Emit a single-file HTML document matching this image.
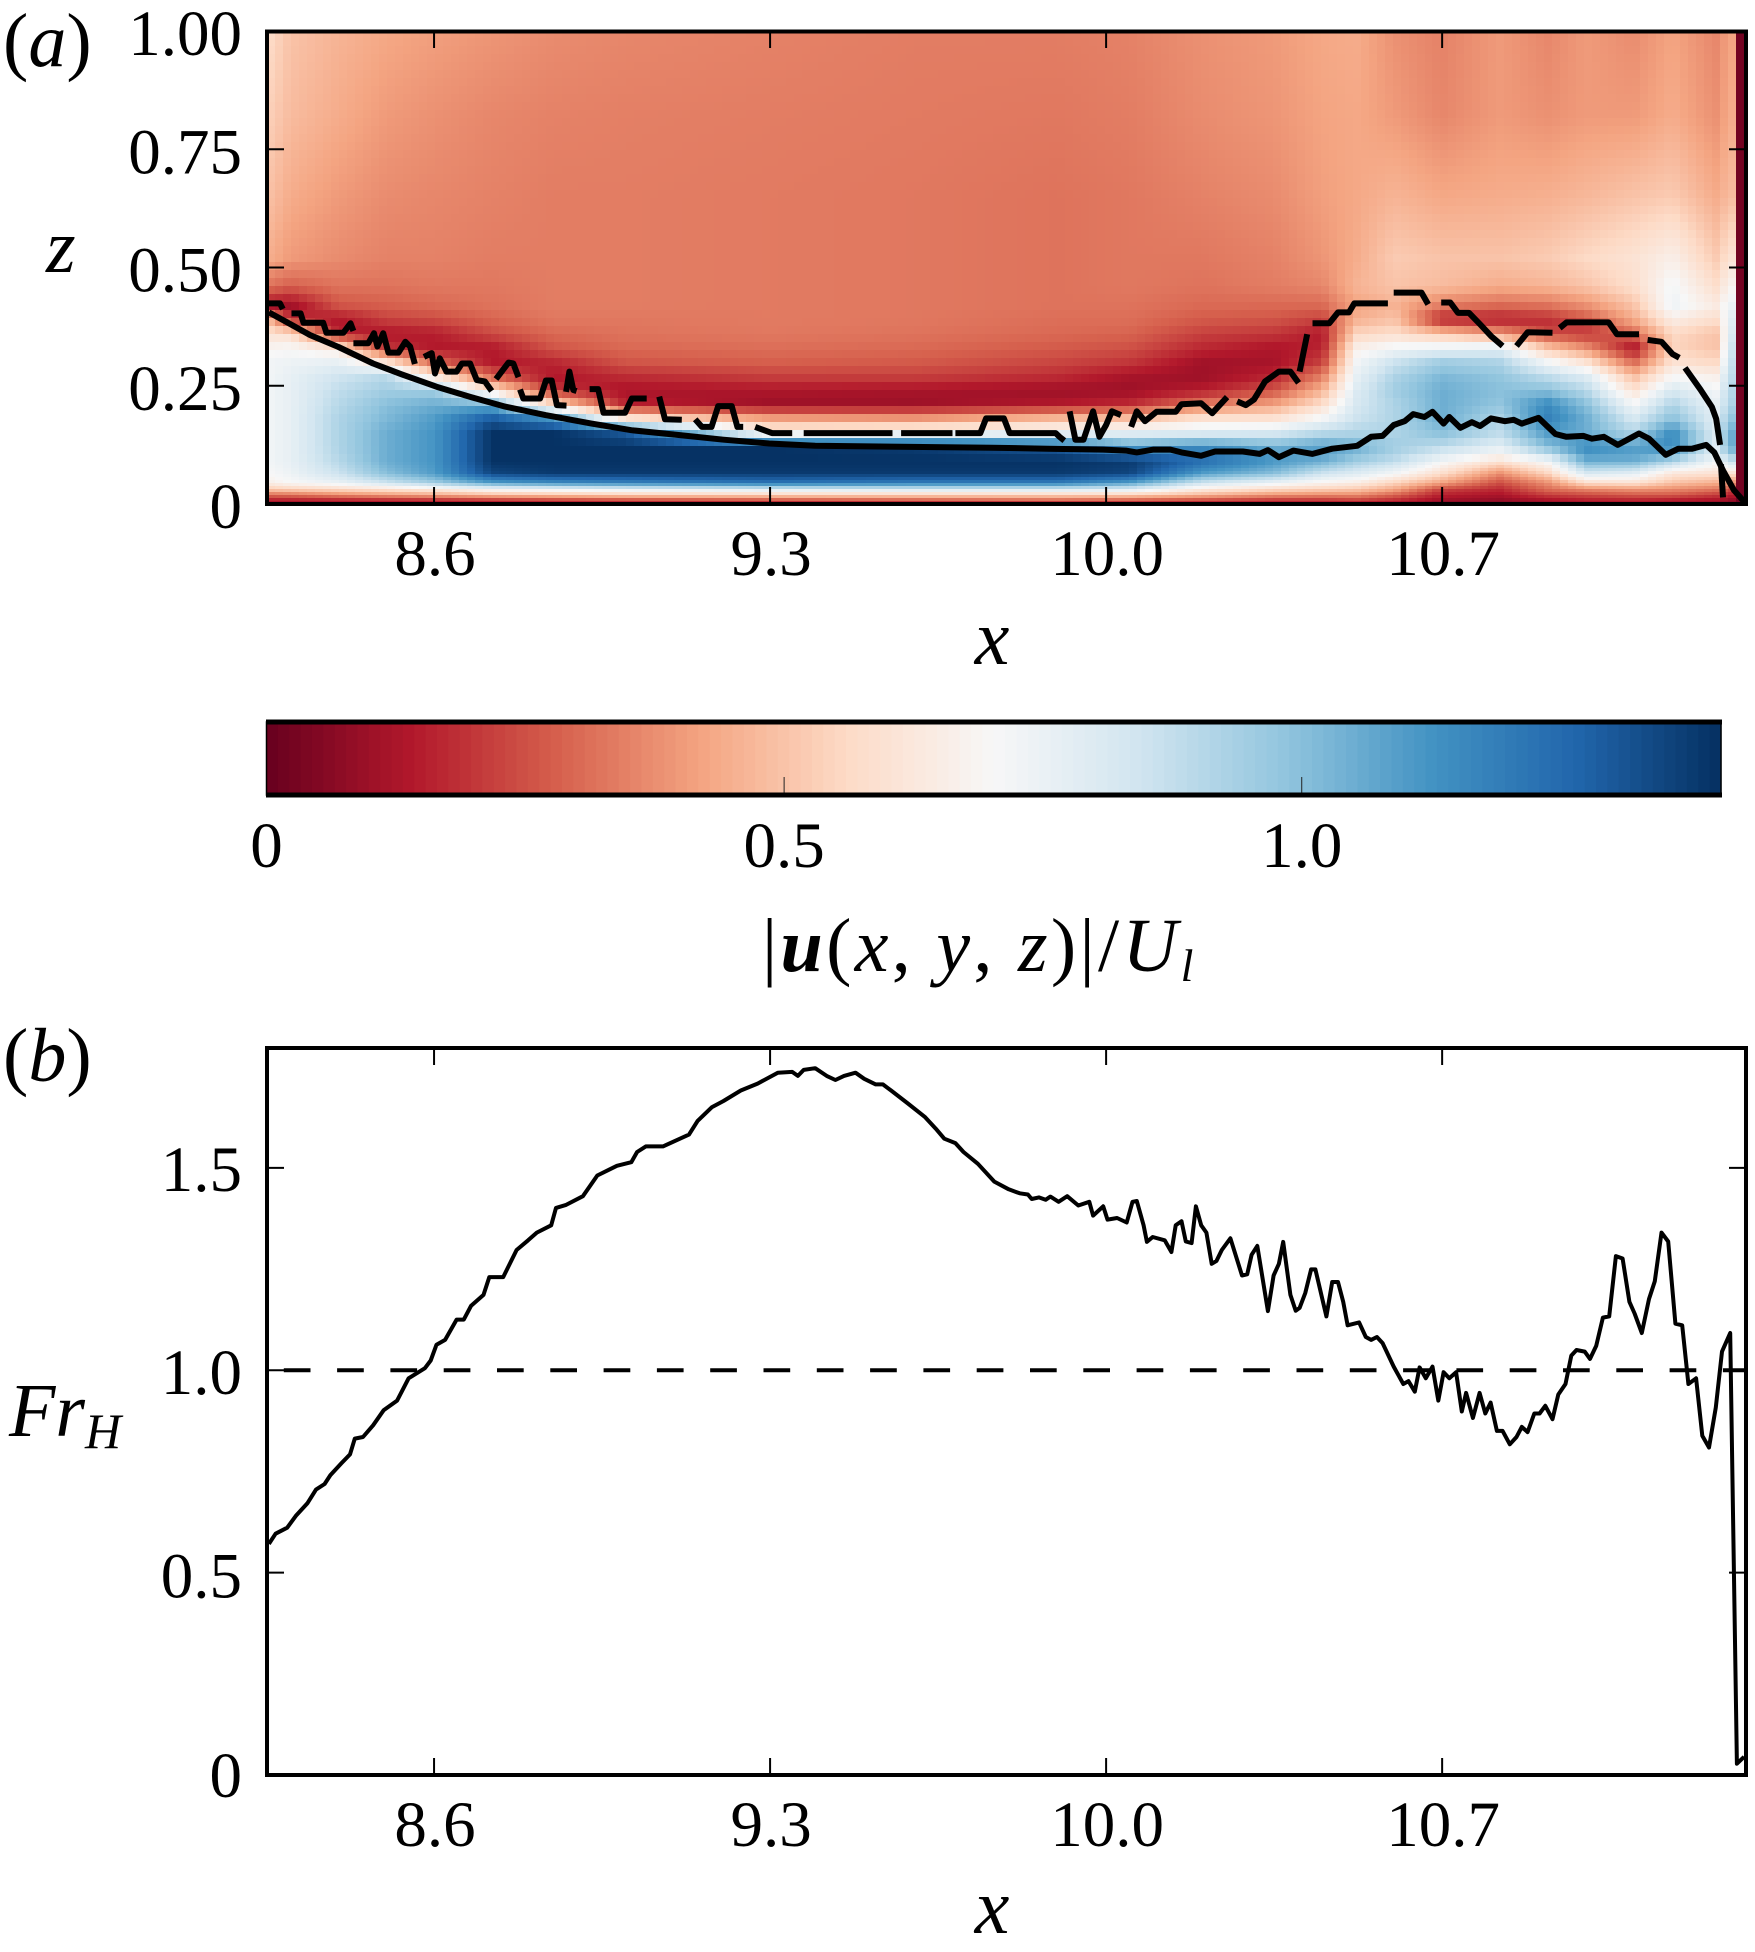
<!DOCTYPE html>
<html lang="en">
<head>
<meta charset="utf-8">
<title>Velocity magnitude and Froude number</title>
<style>
html,body{margin:0;padding:0;background:#fff;}
svg{display:block;}
text{font-family:"Liberation Serif","DejaVu Serif",serif;fill:#000;}
</style>
</head>
<body>
<svg id="figure" xmlns="http://www.w3.org/2000/svg" width="1755" height="1952" viewBox="0 0 1755 1952">
  <defs>
    <clipPath id="clip-a"><rect x="267" y="31" width="1479" height="473"/></clipPath>
    <clipPath id="clip-b"><rect x="267" y="1048" width="1479" height="727"/></clipPath>
  </defs>
  <g id="heatmap" shape-rendering="crispEdges"></g>
  <g id="contours" clip-path="url(#clip-a)"></g>
  <g id="axes-a"></g>
  <g id="colorbar"></g>
  <g id="axes-b"></g>
  <g id="series-b" clip-path="url(#clip-b)"></g>

  <text x="3" y="66" font-size="76">(<tspan font-style="italic">a</tspan>)</text>
  <text x="46" y="272" font-size="76" font-style="italic">z</text>
  <text x="992" y="664" font-size="78" font-style="italic" text-anchor="middle">x</text>
  <text x="762" y="971" font-size="76" letter-spacing="3.3">|<tspan font-weight="bold" font-style="italic">u</tspan>(<tspan font-style="italic">x</tspan>, <tspan font-style="italic">y</tspan>, <tspan font-style="italic">z</tspan>)|/<tspan font-style="italic">U</tspan><tspan font-style="italic" font-size="46" dy="10">l</tspan></text>
  <text x="3" y="1081" font-size="76">(<tspan font-style="italic">b</tspan>)</text>
  <text x="9" y="1436" font-size="76" font-style="italic">Fr<tspan font-size="50" dy="12">H</tspan></text>
  <text x="992" y="1933" font-size="78" font-style="italic" text-anchor="middle">x</text>
</svg>
<script>
// ---------- axis ticks ----------
const xTicks = [8.6, 9.3, 10.0, 10.7];
const xTickLabels = ['8.6', '9.3', '10.0', '10.7'];
const zTicks = [0, 0.25, 0.5, 0.75, 1];
const zTickLabels = ['0', '0.25', '0.50', '0.75', '1.00'];
const frTicks = [0, 0.5, 1, 1.5];
const frTickLabels = ['0', '0.5', '1.0', '1.5'];
const cbTicks = [0, 0.5, 1.0];
const cbTickLabels = ['0', '0.5', '1.0'];
const xDomain = [8.252, 11.333];
const zDomain = [0, 1];
const frDomain = [0, 1.796];
const cbDomain = [0, 1.405];

// ---------- colormap (RdBu) ----------
const cmapStops = ['#67001f','#b2182b','#d6604d','#f4a582','#fddbc7','#f7f7f7','#d1e5f0','#92c5de','#4393c3','#2166ac','#053061'];

// ---------- heatmap: |u|/U_l sampled at heatX columns and heatZ rows ----------
const heatX = [8.25,8.30,8.40,8.50,8.60,8.72,8.85,9.0,9.3,9.6,9.9,10.05,10.2,10.35,10.45,10.52,10.6,10.7,10.82,10.92,11.0,11.1,11.18,11.27,11.30,11.312,11.316,11.335];
const heatZ = [0,0.008,0.02,0.03,0.045,0.065,0.09,0.12,0.15,0.18,0.21,0.24,0.27,0.30,0.33,0.36,0.39,0.42,0.46,0.52,0.65,0.82,1.0];
const heatValues = [
[.10,.15,.32,.50,.66,.70,.72,.72,.72,.72,.72,.72,.72,.72,.68,.60,.50,.12,.32,.45,.50,.54,.58],
[.10,.15,.33,.52,.70,.74,.76,.76,.76,.76,.76,.76,.76,.74,.70,.58,.20,.10,.28,.40,.44,.48,.50],
[.11,.16,.38,.55,.75,.85,.90,.92,.92,.92,.90,.88,.84,.76,.62,.16,.13,.26,.32,.37,.40,.44,.46],
[.12,.17,.42,.58,.85,1.0,1.05,1.05,1.05,1.02,1.0,.95,.90,.60,.20,.13,.22,.28,.32,.35,.37,.40,.43],
[.12,.18,.45,.62,.95,1.10,1.12,1.12,1.12,1.10,1.05,.95,.62,.30,.14,.15,.24,.30,.33,.35,.36,.38,.41],
[.12,.20,.50,.70,1.1,1.35,1.40,1.40,1.40,1.30,1.05,.62,.28,.14,.14,.24,.29,.32,.33,.34,.35,.36,.39],
[.13,.22,.52,.72,1.15,1.38,1.40,1.40,1.40,1.15,.58,.20,.13,.17,.26,.30,.33,.34,.34,.34,.34,.35,.37],
[.13,.24,.55,.75,1.18,1.38,1.40,1.40,1.30,.62,.16,.12,.18,.26,.30,.32,.33,.34,.34,.34,.34,.345,.36],
[.13,.26,.56,.78,1.22,1.38,1.40,1.40,.68,.42,.10,.13,.22,.28,.31,.33,.335,.335,.335,.335,.335,.34,.35],
[.13,.28,.56,.80,1.2,1.38,1.40,1.38,.72,.40,.10,.12,.22,.27,.30,.32,.33,.33,.33,.33,.33,.335,.34],
[.14,.30,.56,.80,1.2,1.38,1.40,1.30,.75,.48,.14,.10,.18,.23,.27,.30,.31,.32,.32,.32,.32,.33,.34],
[.14,.28,.55,.78,1.1,1.35,1.38,1.1,.78,.50,.18,.10,.12,.20,.25,.29,.31,.32,.33,.33,.33,.34,.35],
[.13,.24,.48,.62,.85,1.10,1.25,1.15,.80,.60,.34,.15,.10,.11,.17,.22,.27,.30,.32,.33,.35,.37,.38],
[.12,.20,.40,.55,.75,1.0,1.12,1.05,.82,.60,.42,.26,.16,.12,.13,.20,.26,.30,.34,.35,.37,.39,.40],
[.12,.20,.38,.52,.68,.85,1.05,1.10,.90,.72,.58,.46,.34,.22,.16,.14,.22,.30,.36,.39,.41,.42,.43],
[.12,.22,.38,.50,.65,.80,.95,1.05,.92,.85,.82,.80,.76,.72,.66,.55,.45,.42,.46,.44,.43,.43,.44],
[.10,.18,.30,.42,.55,.72,.88,.95,.92,.92,.92,.95,.92,.85,.72,.58,.50,.46,.50,.52,.46,.40,.38],
[.05,.10,.16,.22,.42,.58,.72,.88,1.0,1.05,1.05,1.05,1.02,.95,.75,.50,.16,.34,.48,.50,.43,.36,.35],
[.05,.08,.13,.17,.25,.38,.60,.78,.88,.92,.98,1.0,.98,.92,.78,.40,.15,.30,.44,.50,.44,.40,.40],
[.08,.12,.22,.30,.38,.55,.72,1.0,1.1,1.18,1.15,1.0,.88,.72,.50,.24,.18,.32,.46,.52,.45,.38,.36],
[.10,.15,.25,.35,.58,.82,1.05,1.15,1.05,1.05,1.0,.90,.80,.60,.38,.20,.26,.38,.50,.56,.47,.40,.40],
[.12,.16,.28,.38,.60,.78,1.05,1.10,.92,.82,.72,.60,.48,.30,.12,.30,.44,.50,.58,.60,.50,.40,.37],
[.10,.14,.28,.36,.50,.62,.92,1.15,1.15,1.0,.92,.82,.70,.60,.55,.56,.65,.74,.72,.66,.52,.44,.42],
[.08,.12,.22,.32,.45,.60,.72,.80,.80,.78,.76,.72,.66,.56,.50,.50,.58,.64,.58,.52,.44,.38,.36],
[.06,.08,.16,.24,.38,.60,.85,1.05,1.05,.98,.92,.90,.88,.86,.84,.80,.78,.74,.68,.60,.48,.44,.42],
[.06,.08,.16,.24,.38,.60,.85,1.05,1.05,.98,.92,.90,.88,.86,.84,.80,.78,.74,.68,.60,.48,.44,.42],
[.02,.02,.02,.02,.02,.02,.02,.02,.02,.02,.02,.02,.02,.02,.02,.02,.02,.02,.02,.02,.02,.02,.02],
[.02,.02,.02,.02,.02,.02,.02,.02,.02,.02,.02,.02,.02,.02,.02,.02,.02,.02,.02,.02,.02,.02,.02]
];

// ---------- panel (a) contours ----------
const solidX = [8.256,8.294,8.342,8.401,8.473,8.533,8.605,8.677,8.748,8.832,8.928,9.011,9.107,9.203,9.298,9.394,9.571,9.762,9.878,9.994,10.041,10.064,10.099,10.134,10.157,10.198,10.227,10.285,10.320,10.337,10.360,10.390,10.430,10.471,10.523,10.552,10.576,10.599,10.622,10.640,10.663,10.680,10.703,10.715,10.738,10.762,10.779,10.802,10.831,10.849,10.866,10.901,10.936,10.959,10.994,11.012,11.037,11.066,11.110,11.131,11.166,11.192,11.221,11.250,11.267,11.285,11.308,11.331];
const solidZ = [.405,.384,.357,.332,.297,.274,.248,.226,.206,.188,.170,.156,.146,.136,.128,.123,.121,.119,.117,.115,.113,.109,.115,.115,.109,.102,.111,.111,.106,.114,.099,.113,.106,.117,.123,.142,.144,.167,.175,.190,.184,.195,.170,.184,.161,.173,.165,.181,.175,.178,.170,.182,.148,.142,.144,.138,.142,.125,.149,.138,.104,.117,.117,.125,.109,.071,.029,.003];
const dashX = [8.255,8.279,8.285,null,8.303,8.322,8.328,8.369,8.376,8.411,8.426,8.432,null,8.432,8.463,8.475,8.482,8.494,8.505,8.526,8.540,8.550,8.560,null,8.579,8.595,8.602,8.612,8.626,8.647,8.658,8.675,8.689,8.706,8.720,null,8.729,8.755,8.765,8.776,null,8.779,8.786,8.821,8.833,8.845,8.856,8.876,null,8.875,8.882,8.890,8.897,null,8.924,8.942,8.953,8.998,9.012,9.043,null,9.069,9.081,9.116,null,9.144,9.158,9.178,9.192,9.220,9.232,9.244,null,9.269,9.304,9.346,null,9.370,9.555,null,9.573,9.680,null,9.686,9.738,9.750,9.787,9.799,9.895,9.903,9.913,null,9.924,9.936,9.953,9.973,9.986,10.000,10.012,10.031,null,10.052,10.064,10.081,10.105,10.145,10.157,10.198,10.221,10.252,null,10.273,10.291,10.308,10.331,10.360,10.384,10.401,null,10.403,10.419,null,10.430,10.465,10.483,10.506,10.517,10.587,null,10.599,10.657,10.671,null,10.698,10.717,10.733,10.756,10.779,10.802,10.826,null,10.855,10.878,10.930,null,10.945,10.959,11.047,11.064,11.110,null,11.128,11.157,11.180,11.194,null,11.206,11.238,11.262,11.271,11.279,null,11.281,11.285];
const dashZ = [.424,.424,.412,null,.403,.403,.383,.383,.362,.362,.382,.366,null,.340,.340,.361,.333,.361,.320,.320,.343,.333,.296,null,.311,.319,.276,.308,.280,.280,.297,.297,.262,.259,.239,null,.264,.299,.297,.268,null,.242,.223,.223,.261,.261,.209,.208,null,.237,.280,.241,.239,null,.243,.243,.193,.193,.223,.223,null,.227,.179,.178,null,.179,.163,.163,.207,.207,.163,.163,null,.163,.150,.150,null,.150,.150,null,.150,.150,null,.150,.150,.181,.181,.150,.150,.142,.134,null,.196,.136,.136,.196,.142,.167,.196,.188,null,.163,.196,.175,.195,.195,.211,.213,.192,.226,null,.217,.209,.221,.259,.280,.280,.256,null,.280,.359,null,.382,.382,.405,.405,.424,.424,null,.447,.447,.422,null,.426,.426,.404,.404,.380,.355,.334,null,.334,.363,.362,null,.372,.384,.384,.359,.359,null,.347,.343,.317,.309,null,.288,.242,.205,.180,.125,null,.084,.014];

// ---------- panel (b) Froude number ----------
const frX = [8.256,8.270,8.294,8.312,8.336,8.354,8.372,8.384,8.407,8.425,8.435,8.452,8.473,8.495,8.523,8.547,8.581,8.593,8.605,8.623,8.647,8.662,8.677,8.703,8.715,8.744,8.772,8.796,8.814,8.844,8.854,8.874,8.910,8.940,8.964,8.981,9.011,9.023,9.041,9.077,9.131,9.149,9.179,9.203,9.239,9.274,9.316,9.346,9.358,9.370,9.394,9.418,9.436,9.454,9.478,9.496,9.520,9.535,9.552,9.587,9.622,9.645,9.663,9.686,9.703,9.733,9.767,9.797,9.820,9.837,9.845,9.860,9.874,9.884,9.901,9.919,9.942,9.965,9.973,9.994,10.003,10.023,10.043,10.055,10.064,10.078,10.085,10.097,10.122,10.136,10.145,10.157,10.166,10.178,10.187,10.198,10.209,10.220,10.230,10.241,10.259,10.283,10.294,10.303,10.315,10.337,10.349,10.360,10.369,10.384,10.395,10.403,10.415,10.427,10.436,10.459,10.471,10.483,10.494,10.503,10.527,10.541,10.552,10.564,10.576,10.599,10.619,10.630,10.643,10.653,10.666,10.680,10.692,10.703,10.715,10.729,10.741,10.750,10.764,10.778,10.790,10.801,10.814,10.826,10.841,10.855,10.866,10.878,10.892,10.903,10.915,10.930,10.942,10.957,10.969,10.980,10.997,11.008,11.021,11.035,11.048,11.062,11.076,11.090,11.101,11.116,11.131,11.143,11.157,11.171,11.186,11.200,11.213,11.229,11.242,11.256,11.270,11.283,11.300,11.314,11.329];
const frY = [.571,.596,.611,.640,.671,.705,.719,.741,.770,.792,.831,.835,.864,.901,.925,.980,1.005,1.024,1.063,1.075,1.125,1.125,1.159,1.186,1.230,1.230,1.297,1.321,1.340,1.358,1.401,1.408,1.430,1.481,1.495,1.505,1.514,1.539,1.553,1.553,1.582,1.616,1.650,1.665,1.691,1.708,1.735,1.737,1.727,1.742,1.746,1.727,1.717,1.727,1.735,1.720,1.706,1.706,1.691,1.659,1.626,1.597,1.572,1.561,1.539,1.510,1.466,1.447,1.437,1.434,1.423,1.427,1.421,1.429,1.416,1.430,1.407,1.416,1.382,1.405,1.372,1.376,1.365,1.416,1.418,1.358,1.317,1.329,1.321,1.292,1.358,1.368,1.318,1.314,1.405,1.358,1.340,1.263,1.270,1.297,1.326,1.234,1.237,1.285,1.307,1.146,1.234,1.263,1.317,1.186,1.147,1.154,1.191,1.249,1.249,1.133,1.218,1.218,1.169,1.111,1.118,1.082,1.075,1.082,1.067,1.009,.966,.973,.947,1.007,.980,1.009,.925,.995,.980,.995,.898,.944,.882,.944,.893,.920,.850,.850,.817,.835,.860,.847,.893,.893,.912,.879,.940,.966,1.036,1.050,1.046,1.028,1.060,1.130,1.133,1.282,1.276,1.169,1.140,1.092,1.176,1.220,1.340,1.318,1.115,1.111,.966,.980,.838,.809,.908,1.046,1.092,.028,.045];
const refLineX = [8.287, 11.333];
const refLineY = [1, 1];

// ---------- axis functions ----------
const pxLeft = 267, pxRight = 1746;
function xPos(v){ return pxLeft + (v - xDomain[0]) / (xDomain[1] - xDomain[0]) * (pxRight - pxLeft); }
function zPos(v){ return 504 - (v - zDomain[0]) / (zDomain[1] - zDomain[0]) * 473; }
function frPos(v){ return 1775 - (v - frDomain[0]) / (frDomain[1] - frDomain[0]) * 727; }
function cbPos(v){ return 266.5 + (v - cbDomain[0]) / (cbDomain[1] - cbDomain[0]) * 1454.5; }

const NS = 'http://www.w3.org/2000/svg';
function mk(tag, parent, attrs){
  const el = document.createElementNS(NS, tag);
  for (const k in attrs) el.setAttribute(k, attrs[k]);
  parent.appendChild(el);
  return el;
}
function hexRgb(h){ return [parseInt(h.slice(1,3),16), parseInt(h.slice(3,5),16), parseInt(h.slice(5,7),16)]; }
const cmapRgb = cmapStops.map(hexRgb);
function colorOf(v){
  let t = (v - cbDomain[0]) / (cbDomain[1] - cbDomain[0]);
  t = Math.max(0, Math.min(1, t)) * (cmapRgb.length - 1);
  const i = Math.min(cmapRgb.length - 2, Math.floor(t));
  const f = t - i, a = cmapRgb[i], b = cmapRgb[i + 1];
  return 'rgb(' + Math.round(a[0] + (b[0]-a[0])*f) + ',' + Math.round(a[1] + (b[1]-a[1])*f) + ',' + Math.round(a[2] + (b[2]-a[2])*f) + ')';
}
function bracket(arr, v){
  let i = 0;
  while (i < arr.length - 2 && arr[i + 1] < v) i++;
  const f = Math.max(0, Math.min(1, (v - arr[i]) / (arr[i + 1] - arr[i])));
  return [i, f];
}
function sampleHeat(x, z){
  const [i, fx] = bracket(heatX, x);
  const [j, fz] = bracket(heatZ, z);
  const a = heatValues[i][j], b = heatValues[i + 1][j], c = heatValues[i][j + 1], d = heatValues[i + 1][j + 1];
  return (a*(1-fx) + b*fx)*(1-fz) + (c*(1-fx) + d*fx)*fz;
}
function zFromPx(py){ return zDomain[0] + (504 - py) / 473 * (zDomain[1] - zDomain[0]); }
function xFromPx(px){ return xDomain[0] + (px - pxLeft) / (pxRight - pxLeft) * (xDomain[1] - xDomain[0]); }

// ---------- draw heatmap ----------
(function(){
  const g = document.getElementById('heatmap');
  const edgeX = xPos(heatX[heatX.length - 2]) ;
  const columnsLeft = 184;
  const stepX = (edgeX - 2 - pxLeft) / columnsLeft;
  const xEdges = [];
  for (let i = 0; i <= columnsLeft; i++) xEdges.push(pxLeft + i * stepX);
  xEdges.push(pxRight);
  const yEdges = [504];
  let y = 504;
  while (y > 464) { y -= 3; yEdges.push(y); }
  while (y > 31) { y = Math.max(31, y - 8); yEdges.push(y); }
  for (let c = 0; c < xEdges.length - 1; c++) {
    const x0 = Math.round(xEdges[c]), x1 = Math.round(xEdges[c + 1]);
    const xv = xFromPx((xEdges[c] + xEdges[c + 1]) / 2);
    for (let r = 0; r < yEdges.length - 1; r++) {
      const y0 = Math.round(yEdges[r + 1]), y1 = Math.round(yEdges[r]);
      const zv = zFromPx((yEdges[r] + yEdges[r + 1]) / 2);
      const cell = mk('rect', g, {x: x0, y: y0, width: x1 - x0, height: y1 - y0, fill: colorOf(sampleHeat(xv, zv))});
      
      
    }
  }
})();

// ---------- line path helper ----------
function pathFrom(xs, ys, fx, fy){
  let d = '', pen = false;
  for (let i = 0; i < xs.length; i++) {
    if (xs[i] === null || ys[i] === null) { pen = false; continue; }
    d += (pen ? 'L' : 'M') + fx(xs[i]).toFixed(1) + ' ' + fy(ys[i]).toFixed(1);
    pen = true;
  }
  return d;
}

// ---------- contours ----------
(function(){
  const g = document.getElementById('contours');
  const solid = mk('path', g, {d: pathFrom(solidX, solidZ, xPos, zPos), fill: 'none', stroke: '#000', 'stroke-width': 6, 'stroke-linejoin': 'round'});
  
  
  const dash = mk('path', g, {d: pathFrom(dashX, dashZ, xPos, zPos), fill: 'none', stroke: '#000', 'stroke-width': 6, 'stroke-linejoin': 'round'});
  
  
})();

// ---------- axes ----------
function frame(g, top, bottom, sw){
  const r = mk('rect', g, {x: pxLeft, y: top, width: pxRight - pxLeft, height: bottom - top, fill: 'none', stroke: '#000', 'stroke-width': sw});
  
  
}
function tick(g, x1, y1, x2, y2){
  const l = mk('line', g, {x1: x1, y1: y1, x2: x2, y2: y2, stroke: '#000', 'stroke-width': 2});
  
  
}
function label(g, str, x, y, anchor){
  const t = mk('text', g, {x: x, y: y, 'font-size': 65, 'text-anchor': anchor});
  t.textContent = str;
  
  
}
(function(){
  const g = document.getElementById('axes-a');
  xTicks.forEach(function(v, i){
    tick(g, xPos(v), 504, xPos(v), 487);
    tick(g, xPos(v), 31, xPos(v), 48);
    label(g, xTickLabels[i], xPos(v) + 1, 575, 'middle');
  });
  zTicks.forEach(function(v, i){
    tick(g, 267, zPos(v), 284, zPos(v));
    tick(g, 1746, zPos(v), 1729, zPos(v));
    label(g, zTickLabels[i], 242, zPos(v) + 24, 'end');
  });
  frame(g, 31.5, 504, 4);
})();
(function(){
  const g = document.getElementById('axes-b');
  xTicks.forEach(function(v, i){
    tick(g, xPos(v), 1775, xPos(v), 1758);
    tick(g, xPos(v), 1048, xPos(v), 1065);
    label(g, xTickLabels[i], xPos(v) + 1, 1846, 'middle');
  });
  frTicks.forEach(function(v, i){
    tick(g, 267, frPos(v), 284, frPos(v));
    tick(g, 1746, frPos(v), 1729, frPos(v));
    label(g, frTickLabels[i], 242, frPos(v) + 24 - v * 2 + 2 * (v > 0 ? 1 : -1), 'end');
  });
  frame(g, 1048, 1775, 4);
})();

// ---------- colorbar ----------
(function(){
  const g = document.getElementById('colorbar');
  const strips = 128;
  for (let i = 0; i < strips; i++) {
    const v0 = cbDomain[0] + (cbDomain[1] - cbDomain[0]) * i / strips;
    const v1 = cbDomain[0] + (cbDomain[1] - cbDomain[0]) * (i + 1) / strips;
    const s = mk('rect', g, {x: cbPos(v0), y: 722, width: cbPos(v1) - cbPos(v0) + 0.6, height: 73, fill: colorOf((v0 + v1) / 2)});
    
    
  }
  cbTicks.forEach(function(v, i){
    if (v > 0) {
      const l = mk('line', g, {x1: cbPos(v), y1: 777, x2: cbPos(v), y2: 795, stroke: '#222', 'stroke-width': 1});
      
      
    }
    label(g, cbTickLabels[i], cbPos(v), 867, 'middle');
  });
  const r = mk('rect', g, {x: 266.5, y: 722, width: 1454.5, height: 73, fill: 'none', stroke: '#000', 'stroke-width': 1.5});
  
  
  const top = mk('line', g, {x1: 266, y1: 722, x2: 1722, y2: 722, stroke: '#000', 'stroke-width': 5});
  
  
  const bottom = mk('line', g, {x1: 266, y1: 795, x2: 1722, y2: 795, stroke: '#000', 'stroke-width': 5});
  
  
})();

// ---------- panel (b) series ----------
(function(){
  const g = document.getElementById('series-b');
  const ref = mk('path', g, {d: pathFrom(refLineX, refLineY, xPos, frPos), fill: 'none', stroke: '#000', 'stroke-width': 4, 'stroke-dasharray': '26.7 26.6'});
  
  
  const fr = mk('path', g, {d: pathFrom(frX, frY, xPos, frPos), fill: 'none', stroke: '#000', 'stroke-width': 4, 'stroke-linejoin': 'round'});
  
  
})();
</script>
</body>
</html>
